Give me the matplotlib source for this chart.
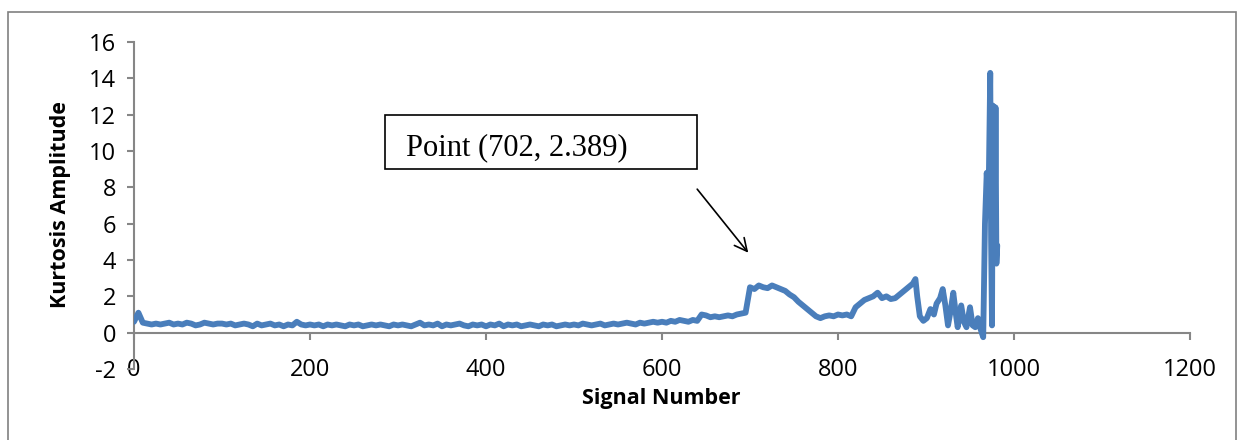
import numpy as np
import matplotlib
matplotlib.use("Agg")
import matplotlib.pyplot as plt
from matplotlib.patches import Rectangle

# ---- data ----
base_start = 0
base_step = 5
base_values = [
    0.6, 1.1, 0.55, 0.5, 0.45, 0.5, 0.45, 0.5, 0.55, 0.45, 0.5, 0.45, 0.55, 0.5, 0.4, 0.45, 0.55, 0.5, 0.45, 0.5,
    0.5, 0.45, 0.5, 0.4, 0.45, 0.5, 0.45, 0.35, 0.5, 0.4, 0.45, 0.5, 0.4, 0.45, 0.35, 0.45, 0.4, 0.6, 0.45, 0.4,
    0.45, 0.4, 0.45, 0.35, 0.45, 0.4, 0.45, 0.4, 0.35, 0.45, 0.4, 0.45, 0.35, 0.4, 0.45, 0.4, 0.45, 0.4, 0.35, 0.45,
    0.4, 0.45, 0.4, 0.35, 0.45, 0.55, 0.4, 0.45, 0.4, 0.5, 0.35, 0.45, 0.4, 0.45, 0.5, 0.4, 0.35, 0.45, 0.4, 0.45,
    0.35, 0.45, 0.4, 0.5, 0.35, 0.45, 0.4, 0.45, 0.35, 0.4, 0.45, 0.4, 0.35, 0.45, 0.4, 0.45, 0.35, 0.4, 0.45, 0.4,
    0.45, 0.4, 0.5, 0.45, 0.4, 0.45, 0.5, 0.4, 0.45, 0.5, 0.45, 0.5, 0.55, 0.5, 0.45, 0.55, 0.5, 0.55, 0.6, 0.55,
    0.6, 0.55, 0.65, 0.6, 0.7, 0.65, 0.6, 0.7, 0.65, 1.0, 0.95, 0.85, 0.9, 0.85, 0.9, 0.95, 0.9, 1.0, 1.05, 1.1,
    2.5, 2.4, 2.6, 2.5, 2.45, 2.6, 2.5, 2.4, 2.3, 2.1, 1.95, 1.7, 1.5, 1.3, 1.1, 0.9, 0.8, 0.9, 0.95, 0.9,
    1.0, 0.95, 1.0, 0.9, 1.4, 1.6, 1.8, 1.9, 2.0, 2.2, 1.9, 2.0, 1.85, 1.9, 2.1, 2.3, 2.5, 2.7,
]
tail_signals = [888, 890, 893, 897, 901, 905, 909, 912, 916, 919, 922, 925, 928, 931, 934, 936, 940, 943,
                946, 950, 953, 956, 959, 962, 965, 967, 969, 971, 973, 974, 975, 976, 977, 978, 979, 980, 981]
tail_values = [2.95, 2.0, 0.9, 0.65, 0.8, 1.3, 1.0, 1.6, 1.9, 2.4, 1.5, 0.4, 1.2, 2.2, 1.0, 0.3, 1.5, 0.6,
               0.3, 1.4, 0.4, 0.3, 0.8, 0.2, -0.25, 6.0, 8.8, 7.0, 14.3, 5.0, 0.4, 12.5, 9.0, 4.0, 12.4, 3.8, 4.8]

x_ticks = [0, 200, 400, 600, 800, 1000, 1200]
y_ticks = [-2, 0, 2, 4, 6, 8, 10, 12, 14, 16]
annotation_text = "Point (702, 2.389)"

base_signals = base_start + base_step * np.arange(len(base_values))
signals = np.concatenate([base_signals, tail_signals])
values = np.concatenate([base_values, tail_values])

W, H = 1241, 440
fig = plt.figure(figsize=(W / 100, H / 100), dpi=100)
plt.rcParams['font.family'] = ['Open Sans', 'DejaVu Sans']

def fx(px):
    return px / W

def fy(py):
    return 1 - py / H

ax = fig.add_axes([fx(134), fy(369), fx(1190) - fx(134), fy(42) - fy(369)])
ax.plot(signals, values, color='#4A7EBB', lw=4.2, solid_joinstyle='round', solid_capstyle='round', zorder=3)

ax.set_xlim(0, 1200)
ax.set_ylim(-2, 16)
ax.set_xticks(x_ticks)
ax.set_yticks(y_ticks)
ax.set_xticklabels([str(t) for t in x_ticks])
ax.set_yticklabels([str(t) for t in y_ticks])

axis_color = '#868686'
for s in ['top', 'right']:
    ax.spines[s].set_visible(False)
ax.spines['bottom'].set_position(('data', 0))
ax.spines['bottom'].set_color(axis_color)
ax.spines['left'].set_color(axis_color)
ax.spines['bottom'].set_linewidth(1.5)
ax.spines['left'].set_linewidth(1.5)
ax.tick_params(axis='both', direction='out', length=5, width=1.5, color=axis_color,
               labelsize=17, labelcolor='black')
ax.tick_params(axis='x', pad=13)
ax.tick_params(axis='y', pad=8)

ax.set_xlabel("Signal Number", fontsize=15.5, fontweight='bold', labelpad=0)
ax.xaxis.set_label_coords(fx(661), fy(388), transform=fig.transFigure)
ax.set_ylabel("Kurtosis Amplitude", fontsize=15.5, fontweight='bold')
ax.yaxis.set_label_coords(fx(71), fy(205), transform=fig.transFigure)

# annotation box
fig.patches.append(Rectangle((fx(385), fy(169)), fx(697) - fx(385), fy(115) - fy(169),
                             transform=fig.transFigure, fill=False, edgecolor='black', lw=1.2))
fig.text(fx(406), fy(148), annotation_text, family='Liberation Serif', fontsize=22,
         ha='left', va='center', color='black')

# arrow
ax.annotate('', xy=(698, 4.4), xytext=(640, 7.9),
            arrowprops=dict(arrowstyle='->,head_length=0.9,head_width=0.45', color='black', lw=1.2,
                            shrinkA=0, shrinkB=0))

# outer frame
fig.patches.append(Rectangle((fx(8), fy(450)), fx(1236) - fx(8), fy(12) - fy(450),
                             transform=fig.transFigure, fill=False, edgecolor='#808080', lw=1.2))

fig.savefig("out.png", dpi=100)
